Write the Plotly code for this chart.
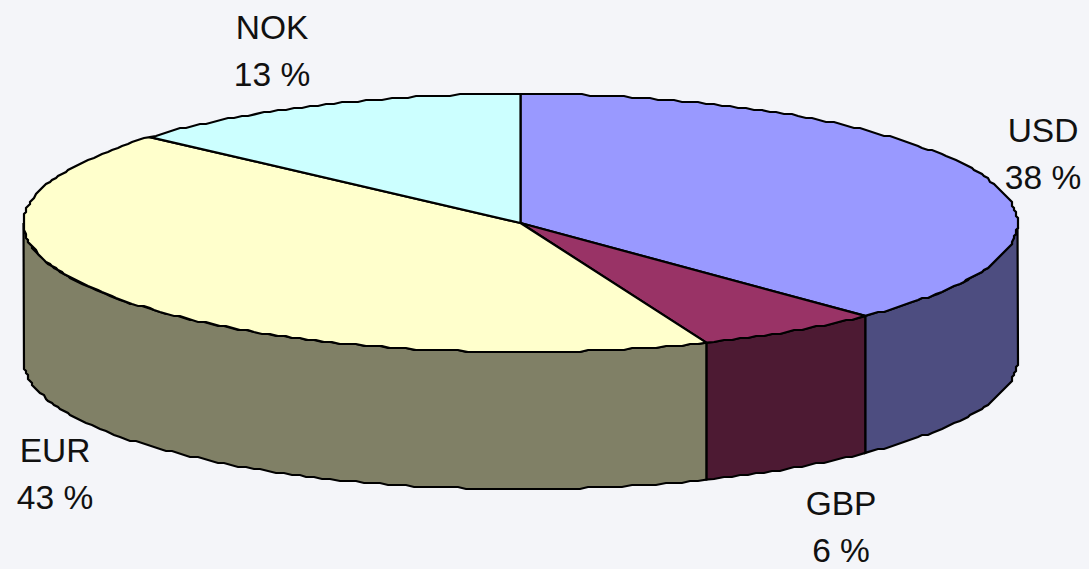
import numpy as np
import plotly.graph_objects as go

categories = ["USD", "GBP", "EUR", "NOK"]
shares = [37.8, 6.1, 42.7, 13.4]
labels = ["38 %", "6 %", "43 %", "13 %"]
top_colors = ["#9999FF", "#993366", "#FFFFCC", "#CCFFFF"]
side_colors = ["#4D4D80", "#4D1A33", "#808066", "#668080"]
label_x = [1043, 841, 55, 272]
label_y = [131, 504, 451, 28]

CX, CY, RX, RY, DEPTH = 520.5, 223, 497, 129, 137
LINE = dict(color="#000000", width=2.2)
FONT = dict(family="Liberation Sans, Arial, sans-serif", size=33.5, color="#111111")

def ell(t):
    return CX + RX * np.sin(t), CY - RY * np.cos(t)

def rough(a, b):
    """Rim between two angles, lightly snapped like the low-res original outline."""
    n = max(int((b - a) / np.radians(1.0)), 2)
    t = np.linspace(a, b, n + 1)
    x, y = ell(t)
    x[1:-1] = np.round(x[1:-1] / 2) * 2
    y[1:-1] = np.round(y[1:-1] / 2) * 2
    return x, y

fig = go.Figure()
edges = np.radians(np.cumsum([0] + shares) * 3.6)

# side walls: only the front half of the rim (90 deg to 270 deg) shows
for i in range(len(shares)):
    a, b = max(edges[i], np.pi / 2), min(edges[i + 1], 3 * np.pi / 2)
    if b <= a:
        continue
    x, y = rough(a, b)
    fig.add_trace(go.Scatter(
        x=np.r_[x, x[::-1], x[0]], y=np.r_[y, y[::-1] + DEPTH, y[0]],
        mode="lines", fill="toself", fillcolor=side_colors[i], line=LINE, hoverinfo="skip"))

# top faces
for i in range(len(shares)):
    x, y = rough(edges[i], edges[i + 1])
    fig.add_trace(go.Scatter(
        x=np.r_[CX, x, CX], y=np.r_[CY, y, CY],
        mode="lines", fill="toself", fillcolor=top_colors[i], line=LINE, hoverinfo="skip"))

# labels
for c, p, lx, ly in zip(categories, labels, label_x, label_y):
    fig.add_trace(go.Scatter(x=[lx], y=[ly + 2.5], mode="text", text=[c], textposition="middle center",
                             textfont=FONT, hoverinfo="skip", cliponaxis=False))
    fig.add_trace(go.Scatter(x=[lx], y=[ly + 49.5], mode="text", text=[p], textposition="middle center",
                             textfont=FONT, hoverinfo="skip", cliponaxis=False))

fig.update_layout(
    width=1089, height=569, margin=dict(l=0, r=0, t=0, b=0), showlegend=False,
    paper_bgcolor="#F4F5F9", plot_bgcolor="#F4F5F9",
    xaxis=dict(range=[0, 1089], visible=False, fixedrange=True),
    yaxis=dict(range=[569, 0], visible=False, fixedrange=True),
)
fig.write_html(
    "out.html", config=dict(displayModeBar=False),
    post_script="document.body.style.margin='0';document.body.style.overflow='hidden';"
                "document.body.style.background='#F4F5F9';",
)
